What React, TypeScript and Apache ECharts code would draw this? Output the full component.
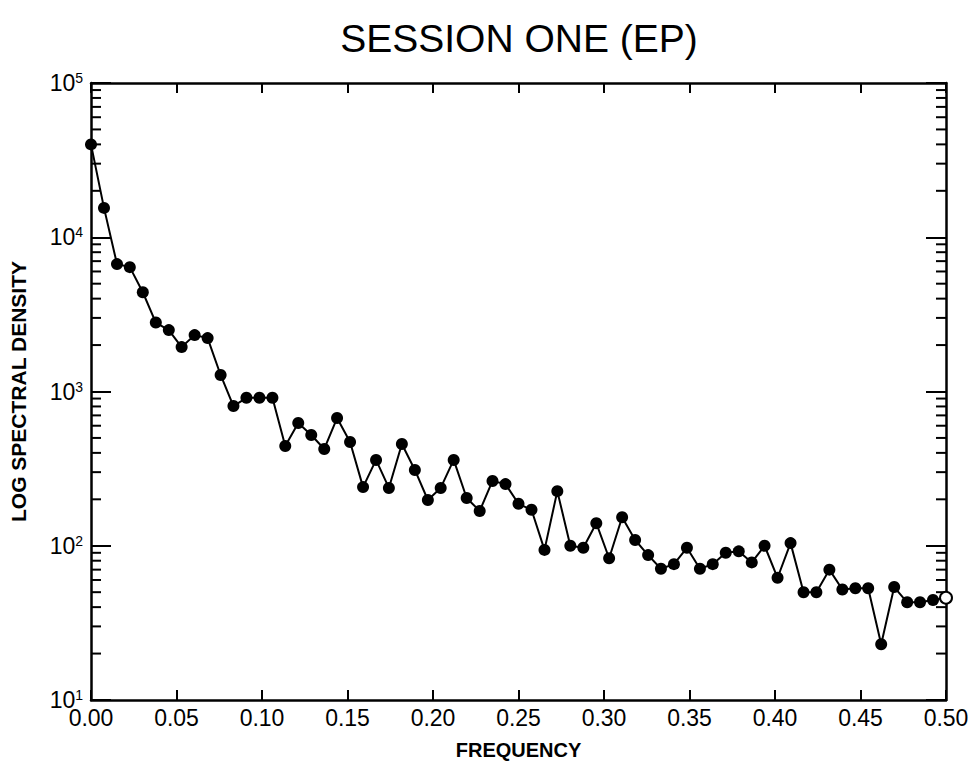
import React, { useEffect, useRef } from "react";
import * as echarts from "echarts";

const frequency = [
  0, 0.0076, 0.0152, 0.0227, 0.0303, 0.0379, 0.0455, 0.053, 0.0606, 0.0682,
  0.0758, 0.0833, 0.0909, 0.0985, 0.1061, 0.1136, 0.1212, 0.1288, 0.1364, 0.1439,
  0.1515, 0.1591, 0.1667, 0.1742, 0.1818, 0.1894, 0.197, 0.2045, 0.2121, 0.2197,
  0.2273, 0.2348, 0.2424, 0.25, 0.2576, 0.2652, 0.2727, 0.2803, 0.2879, 0.2955,
  0.303, 0.3106, 0.3182, 0.3258, 0.3333, 0.3409, 0.3485, 0.3561, 0.3636, 0.3712,
  0.3788, 0.3864, 0.3939, 0.4015, 0.4091, 0.4167, 0.4242, 0.4318, 0.4394, 0.447,
  0.4545, 0.4621, 0.4697, 0.4773, 0.4848, 0.4924, 0.5,
];

const density = [
  40000, 15500, 6700, 6400, 4400, 2800, 2500, 1940, 2320, 2220,
  1280, 805, 910, 910, 910, 443, 625, 522, 424, 673,
  471, 240, 360, 237, 457, 310, 198, 237, 360, 204,
  168, 263, 251, 187, 171, 94, 226, 100, 97, 140,
  83, 153, 109, 87, 71, 76, 97, 71, 76, 90,
  92, 78, 100, 62, 104, 50, 50, 70, 52, 53,
  53, 23, 54, 43, 43, 44.5, 46,
];

const xTickLabels = ["0.00", "0.05", "0.10", "0.15", "0.20", "0.25", "0.30", "0.35", "0.40", "0.45", "0.50"];
const minorMultipliers = [2, 3, 4, 5, 6, 7, 8, 9];
const decades = [10, 100, 1000, 10000];

const title = "SESSION ONE (EP)";
const xName = "FREQUENCY";
const yName = "LOG SPECTRAL DENSITY";

export default function App() {
  const ref = useRef<HTMLDivElement>(null);

  useEffect(() => {
    if (!ref.current) return;
    const chart = echarts.init(ref.current, null, { renderer: "svg" });

    const minorTicks: number[][] = [];
    decades.forEach((d) => minorMultipliers.forEach((m) => minorTicks.push([0, d * m])));

    const points = frequency.map((f, i) => {
      const last = i === frequency.length - 1;
      return last
        ? { value: [f, density[i]], itemStyle: { color: "#fff", borderColor: "#000", borderWidth: 2 } }
        : { value: [f, density[i]] };
    });

    const axisLine = { show: true, onZero: false, lineStyle: { color: "#000", width: 2.5 } };
    const font = "Liberation Sans, Arial, sans-serif";

    chart.setOption({
      animation: false,
      backgroundColor: "#fff",
      grid: { left: 89, right: 33, top: 83, bottom: 69, containLabel: false },
      graphic: [
        {
          type: "text",
          x: 519,
          y: 38,
          style: {
            text: title,
            fontSize: 39,
            fontFamily: font,
            fill: "#000",
            textAlign: "center",
            textVerticalAlign: "middle",
          },
        },
      ],
      xAxis: [
        {
          type: "value",
          min: 0,
          max: 0.5,
          interval: 0.05,
          position: "bottom",
          name: xName,
          nameLocation: "middle",
          nameGap: 40,
          nameTextStyle: { fontSize: 20, fontWeight: "bold", fontFamily: font, color: "#000" },
          axisLine,
          axisTick: { show: true, inside: true, length: 10, lineStyle: { color: "#000", width: 2 } },
          axisLabel: {
            fontSize: 23,
            fontFamily: font,
            color: "#000",
            margin: 6,
            formatter: (v: number) => xTickLabels[Math.round(v / 0.05)] ?? "",
          },
          splitLine: { show: false },
        },
        {
          type: "value",
          min: 0,
          max: 0.5,
          interval: 0.05,
          position: "top",
          axisLine,
          axisTick: { show: true, inside: true, length: 10, lineStyle: { color: "#000", width: 2 } },
          axisLabel: { show: false },
          splitLine: { show: false },
        },
      ],
      yAxis: [
        {
          type: "log",
          logBase: 10,
          min: 10,
          max: 100000,
          position: "left",
          name: yName,
          nameLocation: "middle",
          nameGap: 62,
          nameRotate: 90,
          nameTextStyle: { fontSize: 21, fontWeight: "bold", fontFamily: font, color: "#000" },
          axisLine,
          axisTick: { show: true, inside: true, length: 20, lineStyle: { color: "#000", width: 2 } },
          axisLabel: {
            fontSize: 23,
            fontFamily: font,
            color: "#000",
            margin: 8,
            formatter: (v: number) => "10{sup|" + Math.round(Math.log10(v)) + "}",
            rich: {
              sup: { fontSize: 14, fontFamily: font, color: "#000", verticalAlign: "top", padding: [0, 0, 10, 0] },
            },
          },
          splitLine: { show: false },
        },
        {
          type: "log",
          logBase: 10,
          min: 10,
          max: 100000,
          position: "right",
          axisLine,
          axisTick: { show: true, inside: true, length: 20, lineStyle: { color: "#000", width: 2 } },
          axisLabel: { show: false },
          splitLine: { show: false },
        },
      ],
      series: [
        {
          type: "custom",
          xAxisIndex: 0,
          yAxisIndex: 0,
          data: minorTicks,
          clip: false,
          silent: true,
          renderItem: (params: any, api: any) => {
            const v = api.value(1);
            const pl = api.coord([0, v]);
            const pr = api.coord([0.5, v]);
            return {
              type: "group",
              children: [
                { type: "line", shape: { x1: pl[0], y1: pl[1], x2: pl[0] + 10, y2: pl[1] }, style: { stroke: "#000", lineWidth: 2 } },
                { type: "line", shape: { x1: pr[0], y1: pr[1], x2: pr[0] - 10, y2: pr[1] }, style: { stroke: "#000", lineWidth: 2 } },
              ],
            };
          },
        },
        {
          type: "line",
          xAxisIndex: 0,
          yAxisIndex: 0,
          data: points,
          symbol: "circle",
          symbolSize: 12,
          showSymbol: true,
          clip: false,
          lineStyle: { color: "#000", width: 2 },
          itemStyle: { color: "#000" },
          z: 5,
        },
      ],
    });

    return () => chart.dispose();
  }, []);

  return <div ref={ref} style={{ width: 979, height: 769, position: "absolute", left: 0, top: 0 }} />;
}
